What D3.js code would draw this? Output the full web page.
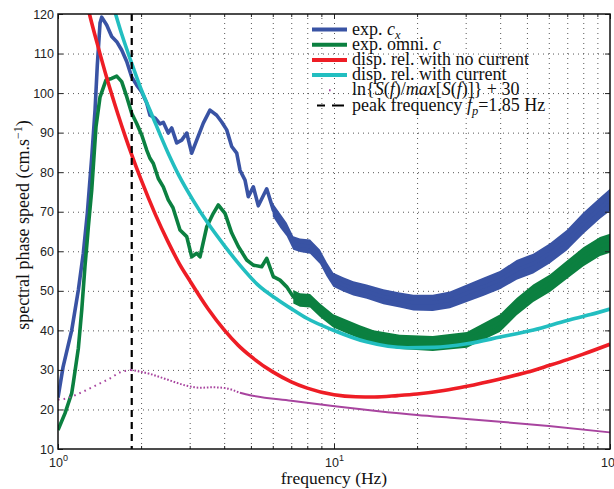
<!DOCTYPE html>
<html><head><meta charset="utf-8">
<script src="https://cdn.jsdelivr.net/npm/d3@7"></script>
<style>
body{margin:0;background:#fff}
svg{display:block}
</style>
</head><body>
<svg id="chart" width="614" height="489"></svg>
<script>
// ---------------- data ----------------
const xTickValues = [1, 10, 100];
const xMinorTicks = [2,3,4,5,6,7,8,9,20,30,40,50,60,70,80,90];
const yTickValues = [10,20,30,40,50,60,70,80,90,100,110,120];
const peakFrequency = 1.85;

// experimental phase speed along x  [frequency Hz, speed cm/s]
const expCx = [[1.00,23],[1.043,30.7],[1.121,40],[1.185,50.2],[1.235,59.5],[1.277,69.6],[1.325,83.8],[1.362,95.7],[1.388,107],[1.42,117.7],[1.44,119.2],[1.501,117.2],[1.565,114.3],[1.632,113],[1.701,110.9],[1.774,108],[1.849,104.1],[1.928,102],[2.011,100.3],[2.096,97.5],[2.154,94.4],[2.246,93.7],[2.342,92.2],[2.407,92.6],[2.509,89.9],[2.582,91.2],[2.692,87.4],[2.807,88.1],[2.927,89.9],[3.051,84.8],[3.181,88.1],[3.361,92.4],[3.553,95.7],[3.758,94.4],[3.919,92.7],[4.086,90.7],[4.26,86.5],[4.442,84.8],[4.565,80.5],[4.76,78],[4.892,73.8],[5.101,76.3],[5.318,71.5],[5.704,75.8],[6.028,70.4],[6.374,67.5],[6.74,65.4],[7.12,62],[7.53,61.5],[8.185,61.2],[8.898,58.6],[9.41,55.3],[9.94,52.7],[10.81,51.5],[11.75,50.6],[13.14,49.8],[15.09,48.5],[17.34,47.7],[19.38,47],[22.84,47],[26.32,47.7],[30.26,49.4],[34.66,51],[39.94,52.7],[45.92,55.3],[52.74,56.9],[60.6,59.5],[69.7,62.8],[80.1,67.1],[92,70.9],[100,73]];
// noisy envelope of exp c_x at high frequency [f, low, high]
const expCxBand = [[6.0,68.8,72.2],[6.4,65.8,69.4],[6.74,63.8,67.2],[7.12,60.4,63.8],[7.53,59.8,63.2],[8.19,59.4,63],[8.9,56.8,60.4],[9.41,53.6,57.2],[9.94,51,54.6],[10.8,49.8,53.4],[11.75,48.8,52.4],[13.14,48,51.6],[15.1,46.6,50.4],[17.3,45.8,49.6],[19.4,45,49],[22.8,44.9,49],[26.3,45.6,49.8],[30.3,47.2,51.6],[34.7,48.7,53.3],[39.9,50.4,55],[45.9,52.8,57.8],[52.7,54.4,59.4],[60.6,57,62],[69.7,60.2,65.4],[80.1,64.4,69.8],[92,68.2,73.6],[100,70.2,75.8]];

// experimental omnidirectional phase speed
const expOmni = [[1.0,14.8],[1.06,19],[1.121,24.1],[1.136,26.7],[1.185,35.5],[1.219,45.1],[1.252,56.1],[1.277,63],[1.288,66.2],[1.325,75.5],[1.373,91.5],[1.42,99],[1.492,103.3],[1.565,103.7],[1.632,104.3],[1.701,102.9],[1.774,99.1],[1.849,94.9],[1.928,92.3],[2.011,89.4],[2.096,85.6],[2.154,83.5],[2.215,82.2],[2.309,78.4],[2.407,76.3],[2.509,73],[2.61,71],[2.767,65.4],[2.927,63.7],[3.051,58.6],[3.181,59.5],[3.27,58.6],[3.459,66.2],[3.654,69.6],[3.809,71.7],[4.029,69.6],[4.26,64.6],[4.501,61.2],[4.828,57.8],[5.101,56.5],[5.47,56.1],[5.704,58.2],[6.028,53.6],[6.374,52.7],[6.74,51],[7.12,48.5],[7.53,47.7],[8.185,47.5],[8.898,45.1],[9.94,42.4],[11.12,41],[12.43,39.6],[13.85,38.3],[17.34,37.1],[22.84,36.7],[30.33,37.6],[39.94,41.8],[45.92,46],[52.74,49.4],[60.6,51.9],[69.7,55.3],[80.1,58.6],[92,61.2],[100,62]];
const expOmniBand = [[7.12,46.8,50.2],[7.53,46,49.4],[8.19,45.8,49.2],[8.9,43.4,46.8],[9.94,40.7,44.1],[11.1,39.3,42.7],[12.4,37.9,41.3],[13.9,36.6,40],[17.3,35.3,38.9],[22.8,34.8,38.6],[30.3,35.6,39.6],[39.9,39.6,44],[45.9,43.8,48.2],[52.7,47.2,51.6],[60.6,49.7,54.1],[69.7,53,57.6],[80.1,56.2,61],[92,58.8,63.6],[100,59.6,64.4]];

// dispersion relation without current
const dispNoCurrent = [[1.25,125],[1.3,120],[1.4,111.5],[1.5,104],[1.65,94.6],[1.75,89.2],[1.85,84.4],[2,78.1],[2.25,69.4],[2.5,62.5],[2.75,56.9],[3,52.6],[3.5,45.4],[4,40.1],[4.5,36.2],[5,33.4],[6,29.5],[7,27],[8,25.4],[10,23.7],[12,23.2],[14,23.15],[17,23.5],[20,23.9],[25,24.8],[30,25.8],[40,27.7],[50,29.4],[60,31.1],[70,32.6],[80,34],[100,36.5]];
// dispersion relation with current
const dispCurrent = [[1.55,124],[1.6,121],[1.7,115],[1.85,107.5],[2,101],[2.15,95.8],[2.5,85],[2.75,79],[3.08,73],[3.5,67],[4,61.5],[4.56,56.5],[5.3,51.5],[6.27,47.7],[7,45.5],[8,43],[9.9,40.1],[13.1,37.1],[18.4,35.6],[23,35.7],[30.3,36.6],[40,38.3],[52.8,40.1],[70,42.5],[85,44],[100,45.4]];
// ln{S(f)/max[S(f)]}+30
const spectrumLog = [[1,22.5],[1.06,22.7],[1.18,23.9],[1.31,25.4],[1.44,26.8],[1.53,27.7],[1.68,29.4],[1.84,30],[2.15,29],[2.48,27.6],[2.93,26],[3.27,25.5],[3.64,25.6],[4.03,25.4],[4.56,24.2],[4.96,23.6],[7,22.2],[9.9,20.9],[14,19.7],[20,18.6],[28,17.8],[40,16.9],[60,15.8],[100,14.2]];

const legendLabels = [
  [{t:"exp. "},{t:"c",i:1},{t:"x",i:1,sub:1}],
  [{t:"exp. omni. "},{t:"c",i:1}],
  [{t:"disp. rel. with no current"}],
  [{t:"disp. rel. with current"}],
  [{t:"ln{"},{t:"S",i:1},{t:"("},{t:"f",i:1},{t:")/"},{t:"max",i:1},{t:"["},{t:"S",i:1},{t:"("},{t:"f",i:1},{t:")]} + 30"}],
  [{t:"peak frequency "},{t:"f",i:1},{t:"p",i:1,sub:1},{t:"=1.85 Hz"}]
];
const xLabel = "frequency (Hz)";

// ---------------- layout ----------------
const C = {blue:"#3953a4", green:"#0b8040", red:"#ee1d25", cyan:"#22bec0", magenta:"#a8449f"};
const L = 58, R = 610, T = 14, B = 449;
const svg = d3.select("#chart");
const x = d3.scaleLog().domain([1,100]).range([L,R]);
const y = d3.scaleLinear().domain([10,120]).range([B,T]);

svg.append("rect").attr("width",614).attr("height",489).attr("fill","#fff");
svg.append("defs").append("clipPath").attr("id","clip")
  .append("rect").attr("x",L).attr("y",T).attr("width",R-L).attr("height",B-T);

// grid
const gridStyle = g => { g.select(".domain").remove();
  g.selectAll(".tick line").attr("stroke","#444").attr("stroke-width",0.9).attr("stroke-dasharray","1,4"); };
svg.append("g").attr("transform",`translate(0,${B})`)
  .call(d3.axisBottom(x).tickValues(xMinorTicks.concat([10])).tickSize(-(B-T)).tickFormat(""))
  .call(gridStyle);
svg.append("g").attr("transform",`translate(${L},0)`)
  .call(d3.axisLeft(y).tickValues(yTickValues.filter(v=>v>10&&v<120)).tickSize(-(R-L)).tickFormat(""))
  .call(gridStyle);

// series
const plot = svg.append("g").attr("clip-path","url(#clip)");
const line = d3.line().x(d=>x(d[0])).y(d=>y(d[1]));
const smooth = d3.line().x(d=>x(d[0])).y(d=>y(d[1])).curve(d3.curveMonotoneX);
const band = d3.area().x(d=>x(d[0])).y0(d=>y(d[1])).y1(d=>y(d[2]));

plot.append("path").datum(expCxBand).attr("d",band).attr("fill",C.blue);
plot.append("path").datum(expCx).attr("d",line).attr("fill","none").attr("stroke",C.blue)
  .attr("stroke-width",3.6).attr("stroke-linejoin","round");
plot.append("path").datum(expOmniBand).attr("d",band).attr("fill",C.green);
plot.append("path").datum(expOmni).attr("d",line).attr("fill","none").attr("stroke",C.green)
  .attr("stroke-width",3.6).attr("stroke-linejoin","round");
plot.append("path").datum(dispNoCurrent).attr("d",smooth).attr("fill","none").attr("stroke",C.red).attr("stroke-width",3.6);
plot.append("path").datum(dispCurrent).attr("d",smooth).attr("fill","none").attr("stroke",C.cyan).attr("stroke-width",3.6);
plot.append("path").datum(spectrumLog.filter(d=>d[0]<=1.84)).attr("d",smooth).attr("fill","none")
  .attr("stroke",C.magenta).attr("stroke-width",2).attr("stroke-dasharray","1.6,4");
plot.append("path").datum(spectrumLog.filter(d=>d[0]>=1.84&&d[0]<=4.56)).attr("d",smooth).attr("fill","none")
  .attr("stroke",C.magenta).attr("stroke-width",2).attr("stroke-dasharray","1.6,1.8");
plot.append("path").datum(spectrumLog.filter(d=>d[0]>=4.56)).attr("d",smooth).attr("fill","none")
  .attr("stroke",C.magenta).attr("stroke-width",2);
plot.append("line").attr("x1",x(peakFrequency)).attr("x2",x(peakFrequency)).attr("y1",T).attr("y2",B)
  .attr("stroke","#000").attr("stroke-width",2.2).attr("stroke-dasharray","7,5");

// axes / ticks
const tickStyle = g => { g.select(".domain").remove(); g.selectAll(".tick line").attr("stroke","#222").attr("stroke-width",1); };
const yl = svg.append("g").attr("transform",`translate(${L},0)`)
  .call(d3.axisLeft(y).tickValues(yTickValues).tickSize(-5).tickPadding(4)).call(tickStyle);
yl.selectAll("text").attr("font-family","Liberation Sans, Arial, sans-serif").attr("font-size",12.5).attr("fill","#222");
svg.append("g").attr("transform",`translate(${R},0)`)
  .call(d3.axisRight(y).tickValues(yTickValues).tickSize(-5).tickFormat("")).call(tickStyle);
const xb = svg.append("g").attr("transform",`translate(0,${B})`)
  .call(d3.axisBottom(x).tickValues(xTickValues).tickSize(-5).tickPadding(9)).call(tickStyle);
xb.selectAll(".tick text").attr("font-family","Liberation Sans, Arial, sans-serif").attr("font-size",12.5).attr("fill","#222")
  .each(function(d){ const t=d3.select(this); t.text("10"); t.append("tspan").attr("dy",-6).attr("font-size",9).text(Math.round(Math.log10(d))); });
svg.append("g").attr("transform",`translate(0,${B})`)
  .call(d3.axisBottom(x).tickValues(xMinorTicks).tickSize(-3).tickFormat("")).call(tickStyle);
svg.append("g").attr("transform",`translate(0,${T})`)
  .call(d3.axisTop(x).tickValues(xTickValues).tickSize(-5).tickFormat("")).call(tickStyle);
svg.append("g").attr("transform",`translate(0,${T})`)
  .call(d3.axisTop(x).tickValues(xMinorTicks).tickSize(-3).tickFormat("")).call(tickStyle);
svg.append("rect").attr("x",L).attr("y",T).attr("width",R-L).attr("height",B-T)
  .attr("fill","none").attr("stroke","#111").attr("stroke-width",1.5);

// axis labels
const serif = "Liberation Serif, Times New Roman, serif";
svg.append("text").attr("x",(L+R)/2).attr("y",484).attr("text-anchor","middle")
  .attr("font-family",serif).attr("font-size",17.5).attr("fill","#111").text(xLabel);
const yt = svg.append("text").attr("transform","translate(29,225) rotate(-90)").attr("text-anchor","middle")
  .attr("font-family",serif).attr("font-size",18).attr("fill","#111");
yt.append("tspan").text("spectral phase speed (cm.s");
yt.append("tspan").attr("dy",-7).attr("font-size",12).text("\u22121");
yt.append("tspan").attr("dy",7).text(")");

// legend
const legendStyles = [
  {stroke:C.blue, w:4}, {stroke:C.green, w:4}, {stroke:C.red, w:4}, {stroke:C.cyan, w:4},
  {stroke:C.magenta, w:2, dash:"0,17,1.6,40"}, {stroke:"#000", w:2.2, dash:"0,5,8,7,12,10"}
];
const lg = svg.append("g");
legendLabels.forEach((segs,i)=>{
  const cy = 29.5 + i*15.2;
  const s = legendStyles[i];
  lg.append("line").attr("x1",312).attr("x2",347).attr("y1",cy).attr("y2",cy)
    .attr("stroke",s.stroke).attr("stroke-width",s.w).attr("stroke-dasharray",s.dash||null);
  const t = lg.append("text").attr("x",352).attr("y",cy+5).attr("font-family",serif).attr("font-size",18).attr("fill","#111");
  segs.forEach(sg=>{
    const ts = t.append("tspan").text(sg.t);
    if (sg.i) ts.attr("font-style","italic");
    if (sg.sub) { ts.attr("font-size",12.5).attr("dy",4); }
  });
  t.selectAll("tspan").each(function(d,j){
    const prev = segs[j-1];
    if (prev && prev.sub && !segs[j].sub) d3.select(this).attr("dy",-4);
  });
});
</script>
</body></html>
